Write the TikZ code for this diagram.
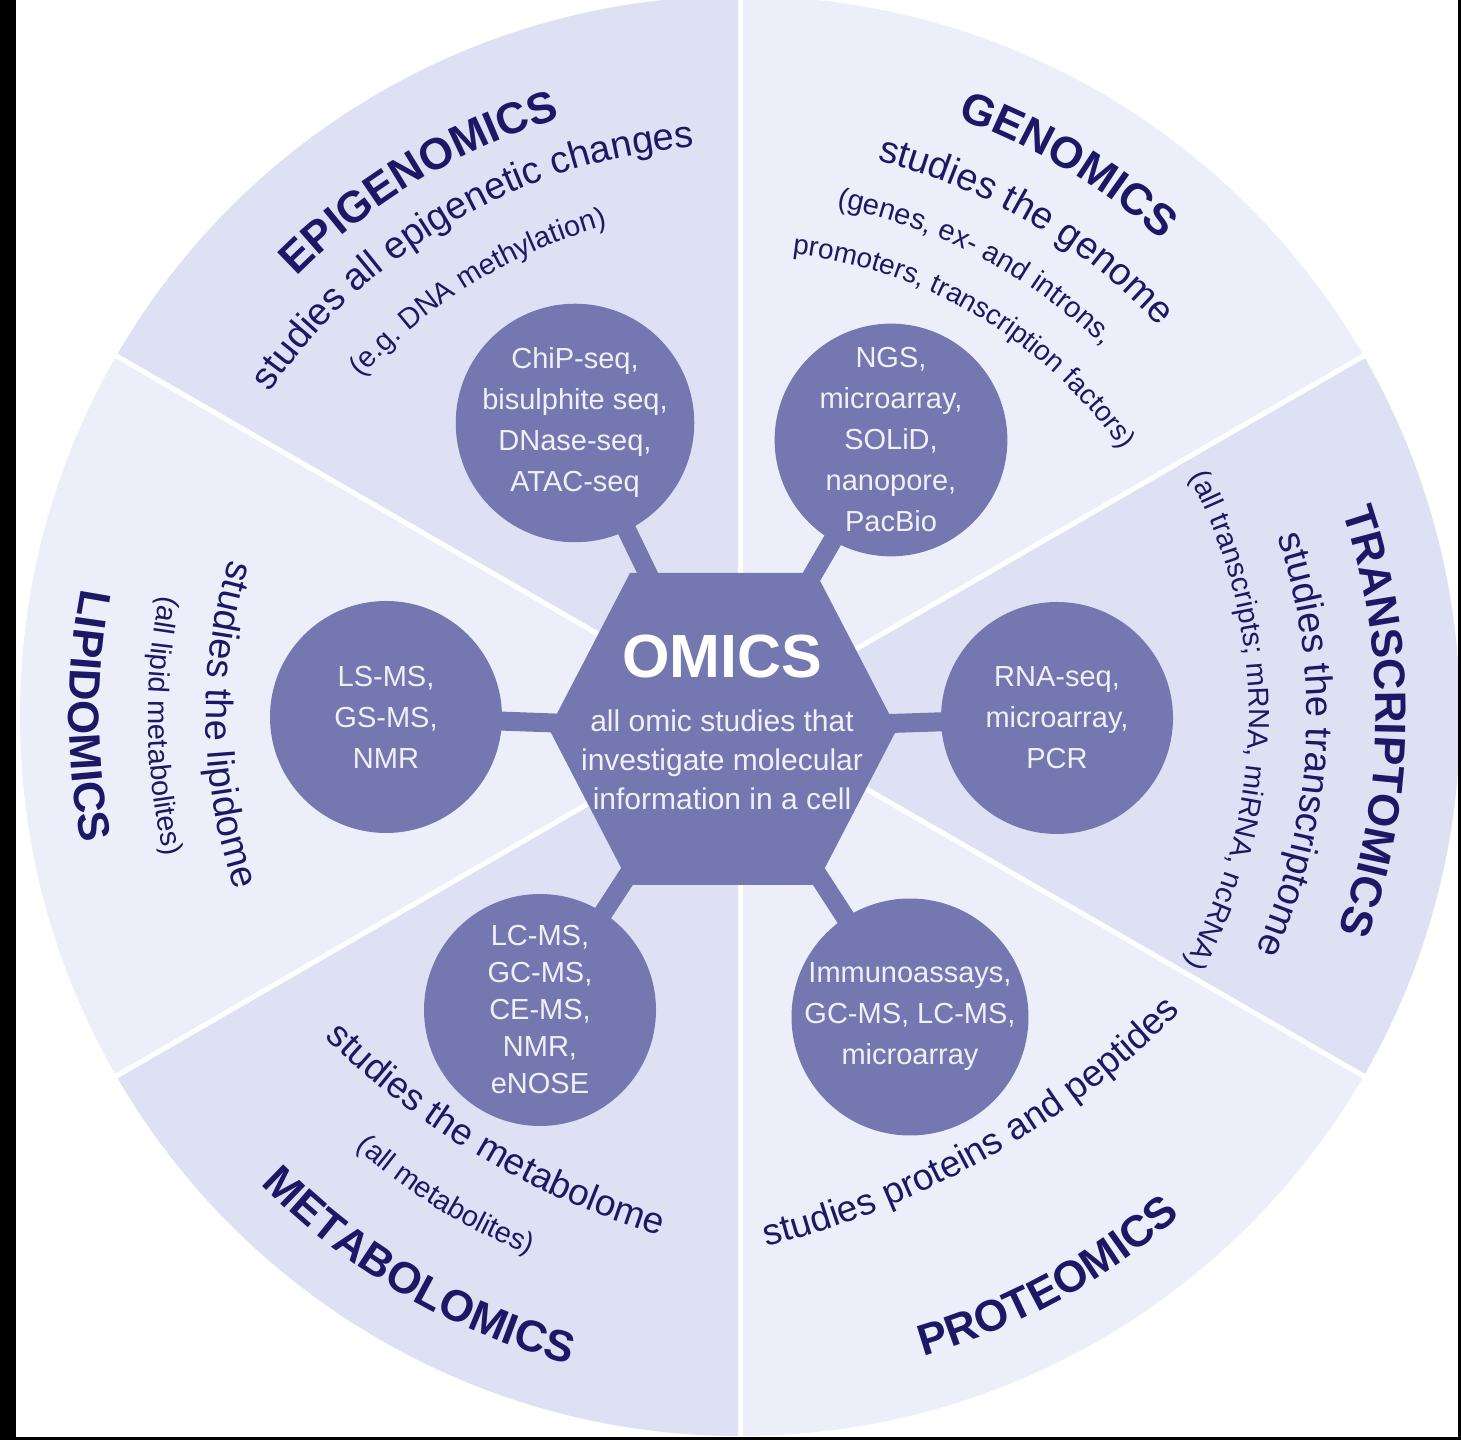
\documentclass[tikz,border=0pt]{standalone}
\usepackage{fontspec}
\setmainfont{Liberation Sans}
\usetikzlibrary{calc,decorations.text}
\definecolor{navy}{RGB}{28,24,102}
\definecolor{omicpurple}{RGB}{117,119,176}
\definecolor{secdark}{RGB}{221,225,243}
\definecolor{seclight}{RGB}{236,239,250}
\definecolor{lighttext}{RGB}{240,240,248}
\pgfdeclarelayer{back}
\pgfdeclarelayer{bars}
\pgfsetlayers{back,bars,main}
\newcommand\ftitle{\fontsize{22}{22}\selectfont\bfseries\color{navy}}
\newcommand\fsub{\fontsize{19}{19}\selectfont\color{navy}}
\newcommand\fsubb{\fontsize{18.5}{18.5}\selectfont\color{navy}}
\newcommand\fsmall{\fontsize{14.5}{14.5}\selectfont\color{navy}}
\newcommand\fsmaller{\fontsize{14}{14}\selectfont\color{navy}}
% #1 mid angle, #2 baseline distance from O, #3 curvature radius, #4 +30 (clockwise) / -30 (counter-clockwise), #5 font, #6 text
\newcommand\arctext[6]{%
  \path[decorate, decoration={text along path, text align=center, text={|#5|#6}}]
    ($(O)+({#1}:{#2-#3})+({#1+(#4)}:{#3})$)
    arc[start angle={#1+(#4)}, end angle={#1-(#4)}, radius={#3}];
}
\begin{document}
\begin{tikzpicture}[x=0.5pt,y=0.5pt,
  sat/.style={circle, fill=omicpurple, minimum size=116pt, inner sep=0pt,
    align=center, text=lighttext, font=\fontsize{14.5}{20.5}\selectfont},
  bar/.style={draw=omicpurple, line width=9.5pt},
  sepline/.style={draw=white, line width=2.5pt}]
\useasboundingbox (0,0) rectangle (1461,1440);
\coordinate (O) at (740,724);
\coordinate (hexc) at (723,711);

\begin{pgfonlayer}{back}
  \fill[white] (0,0) rectangle (1461,1440);
  \fill[seclight] (O) circle[radius=720];
  \foreach \a in {90,210,330}
    \fill[secdark] (O) -- ++(\a:720) arc[start angle=\a, end angle=\a+60, radius=720] -- cycle;
  \foreach \a in {30,90,...,330}
    \draw[sepline] (O) -- ++(\a:725);
  \fill[black] (0,0) rectangle (16,1440);
  \fill[black] (0,0) rectangle (1461,3);
  \fill[black] (1458,0) rectangle (1461,1440);
\end{pgfonlayer}

% central hexagon
\fill[omicpurple] (549,711) -- (630,867) -- (816,867) -- (897,711) -- (816,555) -- (630,555) -- cycle;
\node[font=\fontsize{30.5}{30.5}\selectfont\bfseries, text=white, inner sep=0pt] (omics) at (722,783) {OMICS};
\node[font=\fontsize{15}{19.5}\selectfont, text=lighttext, align=center, inner sep=0pt] (omicsdesc) at (722,680)
  {all omic studies that\\investigate molecular\\information in a cell};

% satellite circles
\node[sat] (chip) at (575,1017) {ChiP-seq,\\bisulphite seq,\\DNase-seq,\\ATAC-seq};
\node[sat] (ngs) at (891,1000) {NGS,\\microarray,\\SOLiD,\\nanopore,\\PacBio};
\node[sat] (rna) at (1057,722) {RNA-seq,\\microarray,\\PCR};
\node[sat] (immuno) at (910,423) {Immunoassays,\\GC-MS, LC-MS,\\microarray};
\node[sat, font=\fontsize{14.5}{18.5}\selectfont] (lcms) at (540,430) {LC-MS,\\GC-MS,\\CE-MS,\\NMR,\\eNOSE};
\node[sat] (lsms) at (386,723) {LS-MS,\\GS-MS,\\NMR};

\begin{pgfonlayer}{bars}
  \foreach \n in {chip,ngs,rna,immuno,lcms,lsms}
    \draw[bar] (hexc) -- (\n.center);
\end{pgfonlayer}

% sector texts
\arctext{121}{624}{624}{30}{\ftitle}{EPIGENOMICS}
\arctext{120}{571}{571}{30}{\fsub}{studies all epigenetic changes}
\arctext{121.7}{508}{508}{30}{\fsmall}{(e.g. DNA methylation)}

\arctext{59.2}{636}{636}{30}{\ftitle}{GENOMICS}
\arctext{59.5}{572}{572}{30}{\fsub}{studies the genome}
\arctext{62.4}{518}{518}{30}{\fsmall}{(genes, ex- and introns,}
\arctext{59.2}{465}{465}{30}{\fsmaller}{promoters, transcription factors)}

\arctext{-0.5}{636}{636}{30}{\ftitle}{TRANSCRIPTOMICS}
\arctext{-3}{567}{567}{30}{\fsub}{studies the transcriptome}
\arctext{-0.5}{509}{509}{30}{\fsmall}{(all transcripts; mRNA, miRNA, ncRNA)}

\arctext{-60.5}{507}{900}{-30}{\fsubb}{studies proteins and peptides}
\arctext{-61.3}{666}{666}{-30}{\ftitle}{PROTEOMICS}

\arctext{239.5}{512}{800}{-30}{\fsubb}{studies the metabolome}
\arctext{238.5}{578}{578}{-30}{\fsmall}{(all metabolites)}
\arctext{239.8}{670}{670}{-30}{\ftitle}{METABOLOMICS}

\arctext{181}{534}{534}{-30}{\fsub}{studies the lipidome}
\arctext{181}{592}{592}{-30}{\fsmall}{(all lipid metabolites)}
\arctext{180}{671}{671}{-30}{\ftitle}{LIPIDOMICS}
\end{tikzpicture}
\end{document}
